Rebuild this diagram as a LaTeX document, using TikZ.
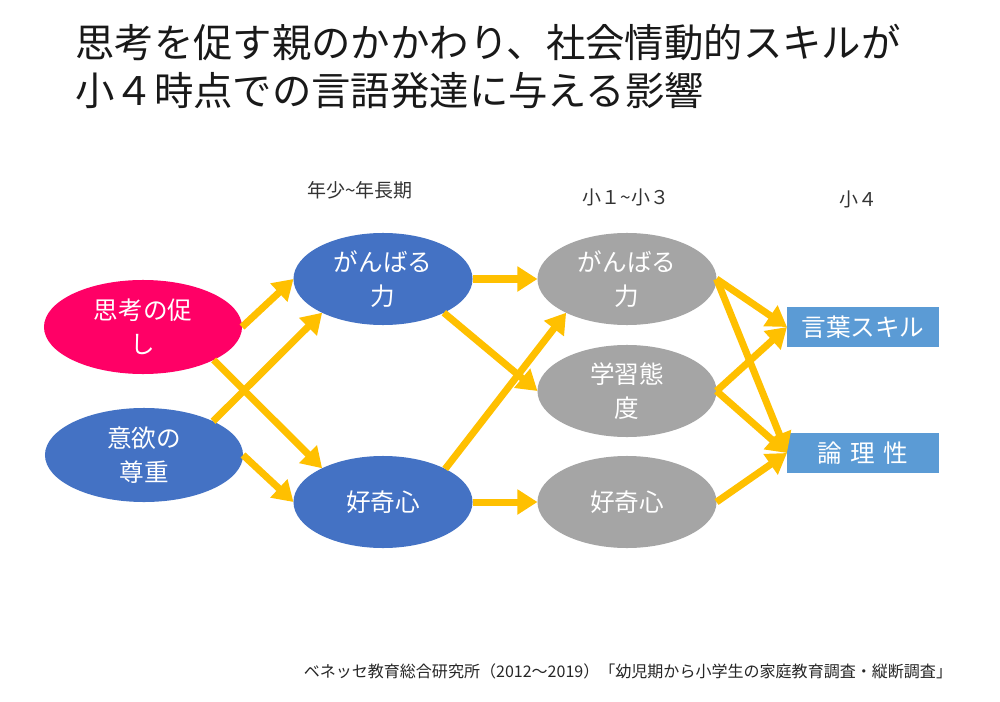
\documentclass[tikz,border=0pt]{standalone}
\usepackage{fontspec}
\setmainfont{Noto Sans CJK JP}
\usepackage{tikz}
\usetikzlibrary{positioning,shapes.geometric,arrows.meta}
\definecolor{nodeblue}{HTML}{4472C4}
\definecolor{nodegray}{HTML}{A5A5A5}
\definecolor{nodepink}{HTML}{FF0066}
\definecolor{skillblue}{HTML}{5B9BD5}
\definecolor{flowyellow}{HTML}{FFC000}
\newcommand{\lbl}{\fontsize{17.5}{24}\selectfont}

\begin{document}
\begin{tikzpicture}[x=0.025cm, y=-0.025cm,
  every bubble/.style={ellipse, inner sep=0pt, outer sep=0pt, align=center, text=white, font=\lbl},
  parent/.style={every bubble, minimum width=4.95cm, minimum height=2.35cm},
  stage/.style={every bubble, minimum width=4.475cm, minimum height=2.3cm},
  skill/.style={fill=skillblue, text=white, font=\lbl, minimum width=3.8cm, minimum height=1cm, inner sep=0pt, outer sep=0pt},
  flow/.style={flowyellow, line width=0.175cm, -{Triangle[length=0.5cm, width=0.6cm]}}]

\useasboundingbox (0,0) rectangle (1000,702);
\fill [white] (0,0) rectangle (1000,702);

\node [anchor=north west, inner sep=0pt, align=left, font=\fontsize{28}{34}\selectfont, text=black!90] (title)
  at (75,24) {思考を促す親のかかわり、社会情動的スキルが\\小４時点での言語発達に与える影響};

\foreach \l/\xx/\yy [count=\i] in {年少\textasciitilde 年長期/360/190, 小１\textasciitilde 小３/626/197, 小４/858/199}
  \node [font=\fontsize{13.5}{16}\selectfont, text=black!80] (head-\i) at (\xx,\yy) {\l};

\node [parent, fill=nodepink] (parent-1) at (143,327) {思考の促\\し};
\node [parent, fill=nodeblue] (parent-2) at (144,455) {意欲の\\尊重};

\foreach \l/\yy [count=\i] in {{がんばる\\力}/279, 好奇心/502}
  \node [stage, fill=nodeblue] (early-\i) at (383,\yy) {\l};

\foreach \l/\yy [count=\i] in {{がんばる\\力}/279, {学習態\\度}/391, 好奇心/502}
  \node [stage, fill=nodegray] (mid-\i) at (627,\yy) {\l};

\foreach \l/\yy [count=\i] in {言葉スキル/327, 論\hspace{0.35em}理\hspace{0.35em}性/453}
  \node [skill] (out-\i) at (863,\yy) {\l};

% arrows
\draw [flow] (parent-1.east) -- (early-1.west);
\draw [flow] (parent-1.-25) -- (early-2.151);
\draw [flow] (parent-2.26) -- (early-1.209);
\draw [flow] (parent-2.east) -- (early-2.west);

\draw [flow] (early-1.east) -- (mid-1.west);
\draw [flow] (early-1.-29) -- (mid-2.west);
\draw [flow] (early-2.28) -- (mid-1.209);
\draw [flow] (early-2.east) -- (mid-3.west);

\foreach \i in {1,2}
  \foreach \j in {1,2}
    \draw [flow] (mid-\i.east) -- (out-\j.west);
\draw [flow] (mid-3.east) -- (out-2.west);

\node [anchor=east, font=\fontsize{11.4}{13}\selectfont, text=black!85] (source) at (957,671)
  {ベネッセ教育総合研究所（2012～2019）「幼児期から小学生の家庭教育調査・縦断調査」};
\end{tikzpicture}
\end{document}
